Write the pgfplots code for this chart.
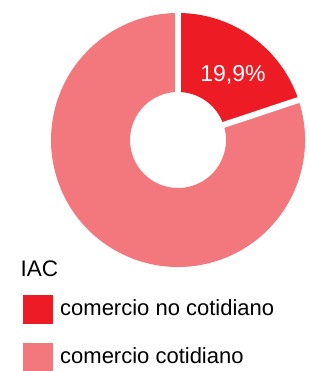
\documentclass[border=0pt]{standalone}
\usepackage{pgfplots}
\usepackage{pgfplotstable}
\pgfplotsset{compat=1.18}
\usepackage{fontspec}
\setmainfont{Liberation Sans}
\definecolor{cnc}{HTML}{ED1C24}
\definecolor{cc}{HTML}{F2787E}
\pgfplotstableread{
label value
nocotidiano 19.9
cotidiano 80.1
}\datatable
\begin{document}
\begin{tikzpicture}
\useasboundingbox (0,0) rectangle (308pt,371pt);
\pgfplotstablegetelem{0}{value}\of\datatable
\let\va\pgfplotsretval
\pgfmathsetmacro{\aend}{90-3.6*\va}
\pgfmathsetmacro{\R}{127}
\pgfmathsetmacro{\r}{48}
\begin{axis}[at={(0,0)}, anchor=south west, x=1pt, y=1pt,
  disabledatascaling, hide axis, clip=false,
  xmin=-178, xmax=130, ymin=-231, ymax=140]
% light slice (comercio cotidiano)
\fill[cc] (axis cs:{\R*cos(\aend)},{\R*sin(\aend)})
  arc[start angle=\aend, end angle=-270, radius=\R pt]
  -- (axis cs:0,\r)
  arc[start angle=-270, end angle=\aend, radius=\r pt] -- cycle;
% dark slice (comercio no cotidiano)
\fill[cnc] (axis cs:0,\R)
  arc[start angle=90, end angle=\aend, radius=\R pt]
  -- (axis cs:{\r*cos(\aend)},{\r*sin(\aend)})
  arc[start angle=\aend, end angle=90, radius=\r pt] -- cycle;
% separating gaps
\draw[white, line width=6pt] (axis cs:0,{\r-2}) -- (axis cs:0,{\R+3});
\draw[white, line width=6pt] (axis cs:{(\r-2)*cos(\aend)},{(\r-2)*sin(\aend)})
  -- (axis cs:{(\R+3)*cos(\aend)},{(\R+3)*sin(\aend)});
% label
\node[anchor=base, inner sep=0, text=white, font=\fontsize{23}{27}\selectfont]
  at (axis cs:55,58) {19,9\%};
% legend
\node[anchor=base west, inner sep=0, font=\fontsize{22.5}{27}\selectfont]
  at (axis cs:-157.5,-136) {IAC};
\fill[cnc] (axis cs:-154.7,-155) rectangle (axis cs:-124.7,-184);
\fill[cc] (axis cs:-154.7,-203) rectangle (axis cs:-124.7,-232);
\node[anchor=base west, inner sep=0, font=\fontsize{22}{26}\selectfont]
  at (axis cs:-118,-175) {comercio no cotidiano};
\node[anchor=base west, inner sep=0, font=\fontsize{22}{26}\selectfont]
  at (axis cs:-118,-223) {comercio cotidiano};
\end{axis}
\end{tikzpicture}
\end{document}
